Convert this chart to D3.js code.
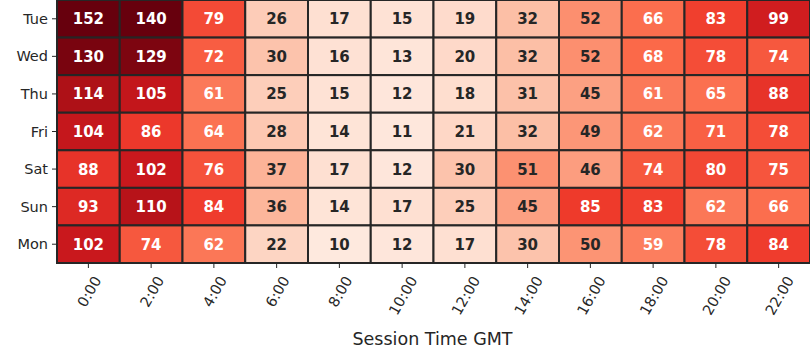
<!DOCTYPE html>
<html><head><meta charset="utf-8">
<script src="https://cdn.jsdelivr.net/npm/d3@7"></script>
<style>body{margin:0;background:#fff}svg{display:block}text{font-family:"DejaVu Sans",sans-serif}</style>
</head><body>
<svg id="c" width="810" height="360"></svg>
<script>
const days = ["Tue","Wed","Thu","Fri","Sat","Sun","Mon"];
const hours = ["0:00","2:00","4:00","6:00","8:00","10:00","12:00","14:00","16:00","18:00","20:00","22:00"];
const tue = [152,140,79,26,17,15,19,32,52,66,83,99];
const wed = [130,129,72,30,16,13,20,32,52,68,78,74];
const thu = [114,105,61,25,15,12,18,31,45,61,65,88];
const fri = [104,86,64,28,14,11,21,32,49,62,71,78];
const sat = [88,102,76,37,17,12,30,51,46,74,80,75];
const sun = [93,110,84,36,14,17,25,45,85,83,62,66];
const mon = [102,74,62,22,10,12,17,30,50,59,78,84];
const rows = [tue,wed,thu,fri,sat,sun,mon];
const colorDomain = [0, 135];
const xLabel = "Session Time GMT";

const svg = d3.select("#c");
const L = 57, R = 810, T = 0, B = 263;
const x = d3.scaleBand().domain(hours).range([L,R]);
const y = d3.scaleBand().domain(days).range([T,B]);
const vmin = colorDomain[0], vmax = colorDomain[1];
const reds = ['#fff5f0','#fee0d2','#fcbba1','#fc9272','#fb6a4a','#ef3b2c','#cb181d','#a50f15','#67000d'];
const color = d3.scaleLinear().domain(reds.map((_, i) => vmin + (vmax - vmin) * i / 8)).range(reds).interpolate(d3.interpolateRgb).clamp(true);

function lum(c){
  const rgb = d3.rgb(c);
  const f = v => { v/=255; return v <= 0.03928 ? v/12.92 : Math.pow((v+0.055)/1.055, 2.4); };
  return 0.2126*f(rgb.r)+0.7152*f(rgb.g)+0.0722*f(rgb.b);
}

const cells = [];
rows.forEach((r, i) => r.forEach((v, j) => cells.push({day: days[i], hour: hours[j], v})));

svg.append("g").selectAll("rect").data(cells).join("rect")
  .attr("x", d => x(d.hour)).attr("y", d => y(d.day))
  .attr("width", x.bandwidth()).attr("height", y.bandwidth())
  .attr("fill", d => color(d.v))
  .attr("stroke", "#262626").attr("stroke-width", 2);

svg.append("g").selectAll("text").data(cells).join("text")
  .attr("x", d => x(d.hour) + x.bandwidth()/2)
  .attr("y", d => y(d.day) + y.bandwidth()/2 + 0.5)
  .attr("text-anchor", "middle").attr("dominant-baseline", "central")
  .attr("font-size", 15).attr("font-weight", "bold")
  .attr("fill", d => lum(color(d.v)) > 0.408 ? "#262626" : "#ffffff")
  .text(d => d.v);

// y axis
const yg = svg.append("g");
days.forEach(d => {
  const cy = y(d) + y.bandwidth()/2;
  yg.append("line").attr("x1", L-5).attr("x2", L).attr("y1", cy).attr("y2", cy).attr("stroke", "#262626").attr("stroke-width", 1);
  yg.append("text").attr("x", L-9).attr("y", cy).attr("text-anchor", "end").attr("dominant-baseline", "central")
    .attr("font-size", 14.5).attr("fill", "#262626").text(d);
});

// x axis
const xg = svg.append("g");
hours.forEach(h => {
  const cx = x(h) + x.bandwidth()/2;
  xg.append("line").attr("x1", cx).attr("x2", cx).attr("y1", B).attr("y2", B+5).attr("stroke", "#262626").attr("stroke-width", 1);
  const t = xg.append("text").attr("text-anchor", "middle").attr("dominant-baseline", "central")
    .attr("font-size", 14.5).attr("fill", "#262626").text(h);
  const w = t.node().getComputedTextLength();
  const a = 60 * Math.PI / 180;
  const ext = w * Math.sin(a) + 10.5 * Math.cos(a);
  const cy = B + 12 + ext/2;
  t.attr("transform", `translate(${cx + 1},${cy}) rotate(-60)`);
});

svg.append("text").attr("x", (L+R)/2 - 1).attr("y", 345).attr("text-anchor", "middle")
  .attr("font-size", 17.5).attr("fill", "#262626").text(xLabel);
</script>
</body></html>
